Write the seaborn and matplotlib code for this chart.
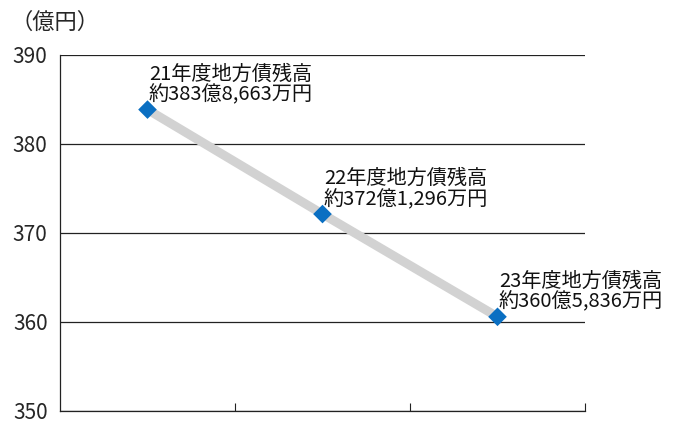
import numpy as np
import pandas as pd
import seaborn as sns
import matplotlib.pyplot as plt

# data
years = ["21年度", "22年度", "23年度"]
values = [383.8663, 372.1296, 360.5836]
labels = ["21年度地方債残高\n約383億8,663万円",
          "22年度地方債残高\n約372億1,296万円",
          "23年度地方債残高\n約360億5,836万円"]
y_ticks = [350, 360, 370, 380, 390]

sns.set_style("white")
plt.rcParams["font.family"] = ["Noto Sans CJK JP", "DejaVu Sans"]

df = pd.DataFrame({"pos": np.arange(len(years)), "value": values})

fig = plt.figure(figsize=(6.82, 4.23), dpi=100)
ax = fig.add_axes([60 / 682, 1 - 411 / 423, 525 / 682, 356 / 423])

sns.lineplot(data=df, x="pos", y="value", color="#d2d2d2", linewidth=6.5,
             solid_capstyle="butt", ax=ax, zorder=2)
sns.scatterplot(data=df, x="pos", y="value", marker="D", color="#0a6fc2",
                s=90, edgecolor="none", ax=ax, zorder=3)

for x, y, t in zip(df["pos"], df["value"], labels):
    ax.annotate(t, (x, y), xytext=(1, 3), textcoords="offset points",
                ha="left", va="bottom", fontsize=14.5, linespacing=0.98,
                color="#111111")

ax.set_xlim(-0.5, 2.5)
ax.set_ylim(350, 390)
ax.set_yticks(y_ticks)
ax.set_yticklabels([str(v) for v in y_ticks], fontsize=15)
ax.set_xticks([0.5, 1.5, 2.5])
ax.set_xticklabels([])
ax.tick_params(axis="x", bottom=True, direction="in", length=6, width=0.8,
               color="#222222")
ax.tick_params(axis="y", left=False, length=0, pad=9)
ax.yaxis.grid(True, color="#222222", linewidth=0.9)
ax.set_axisbelow(True)
ax.set_xlabel("")
ax.set_ylabel("")

for side in ["top", "right"]:
    ax.spines[side].set_visible(False)
for side in ["left", "bottom"]:
    ax.spines[side].set_color("#222222")
    ax.spines[side].set_linewidth(0.9)

fig.text(10 / 682, 1 - 22 / 423, "（億円）", fontsize=16, va="center", ha="left")

fig.savefig("out.png", dpi=100)
